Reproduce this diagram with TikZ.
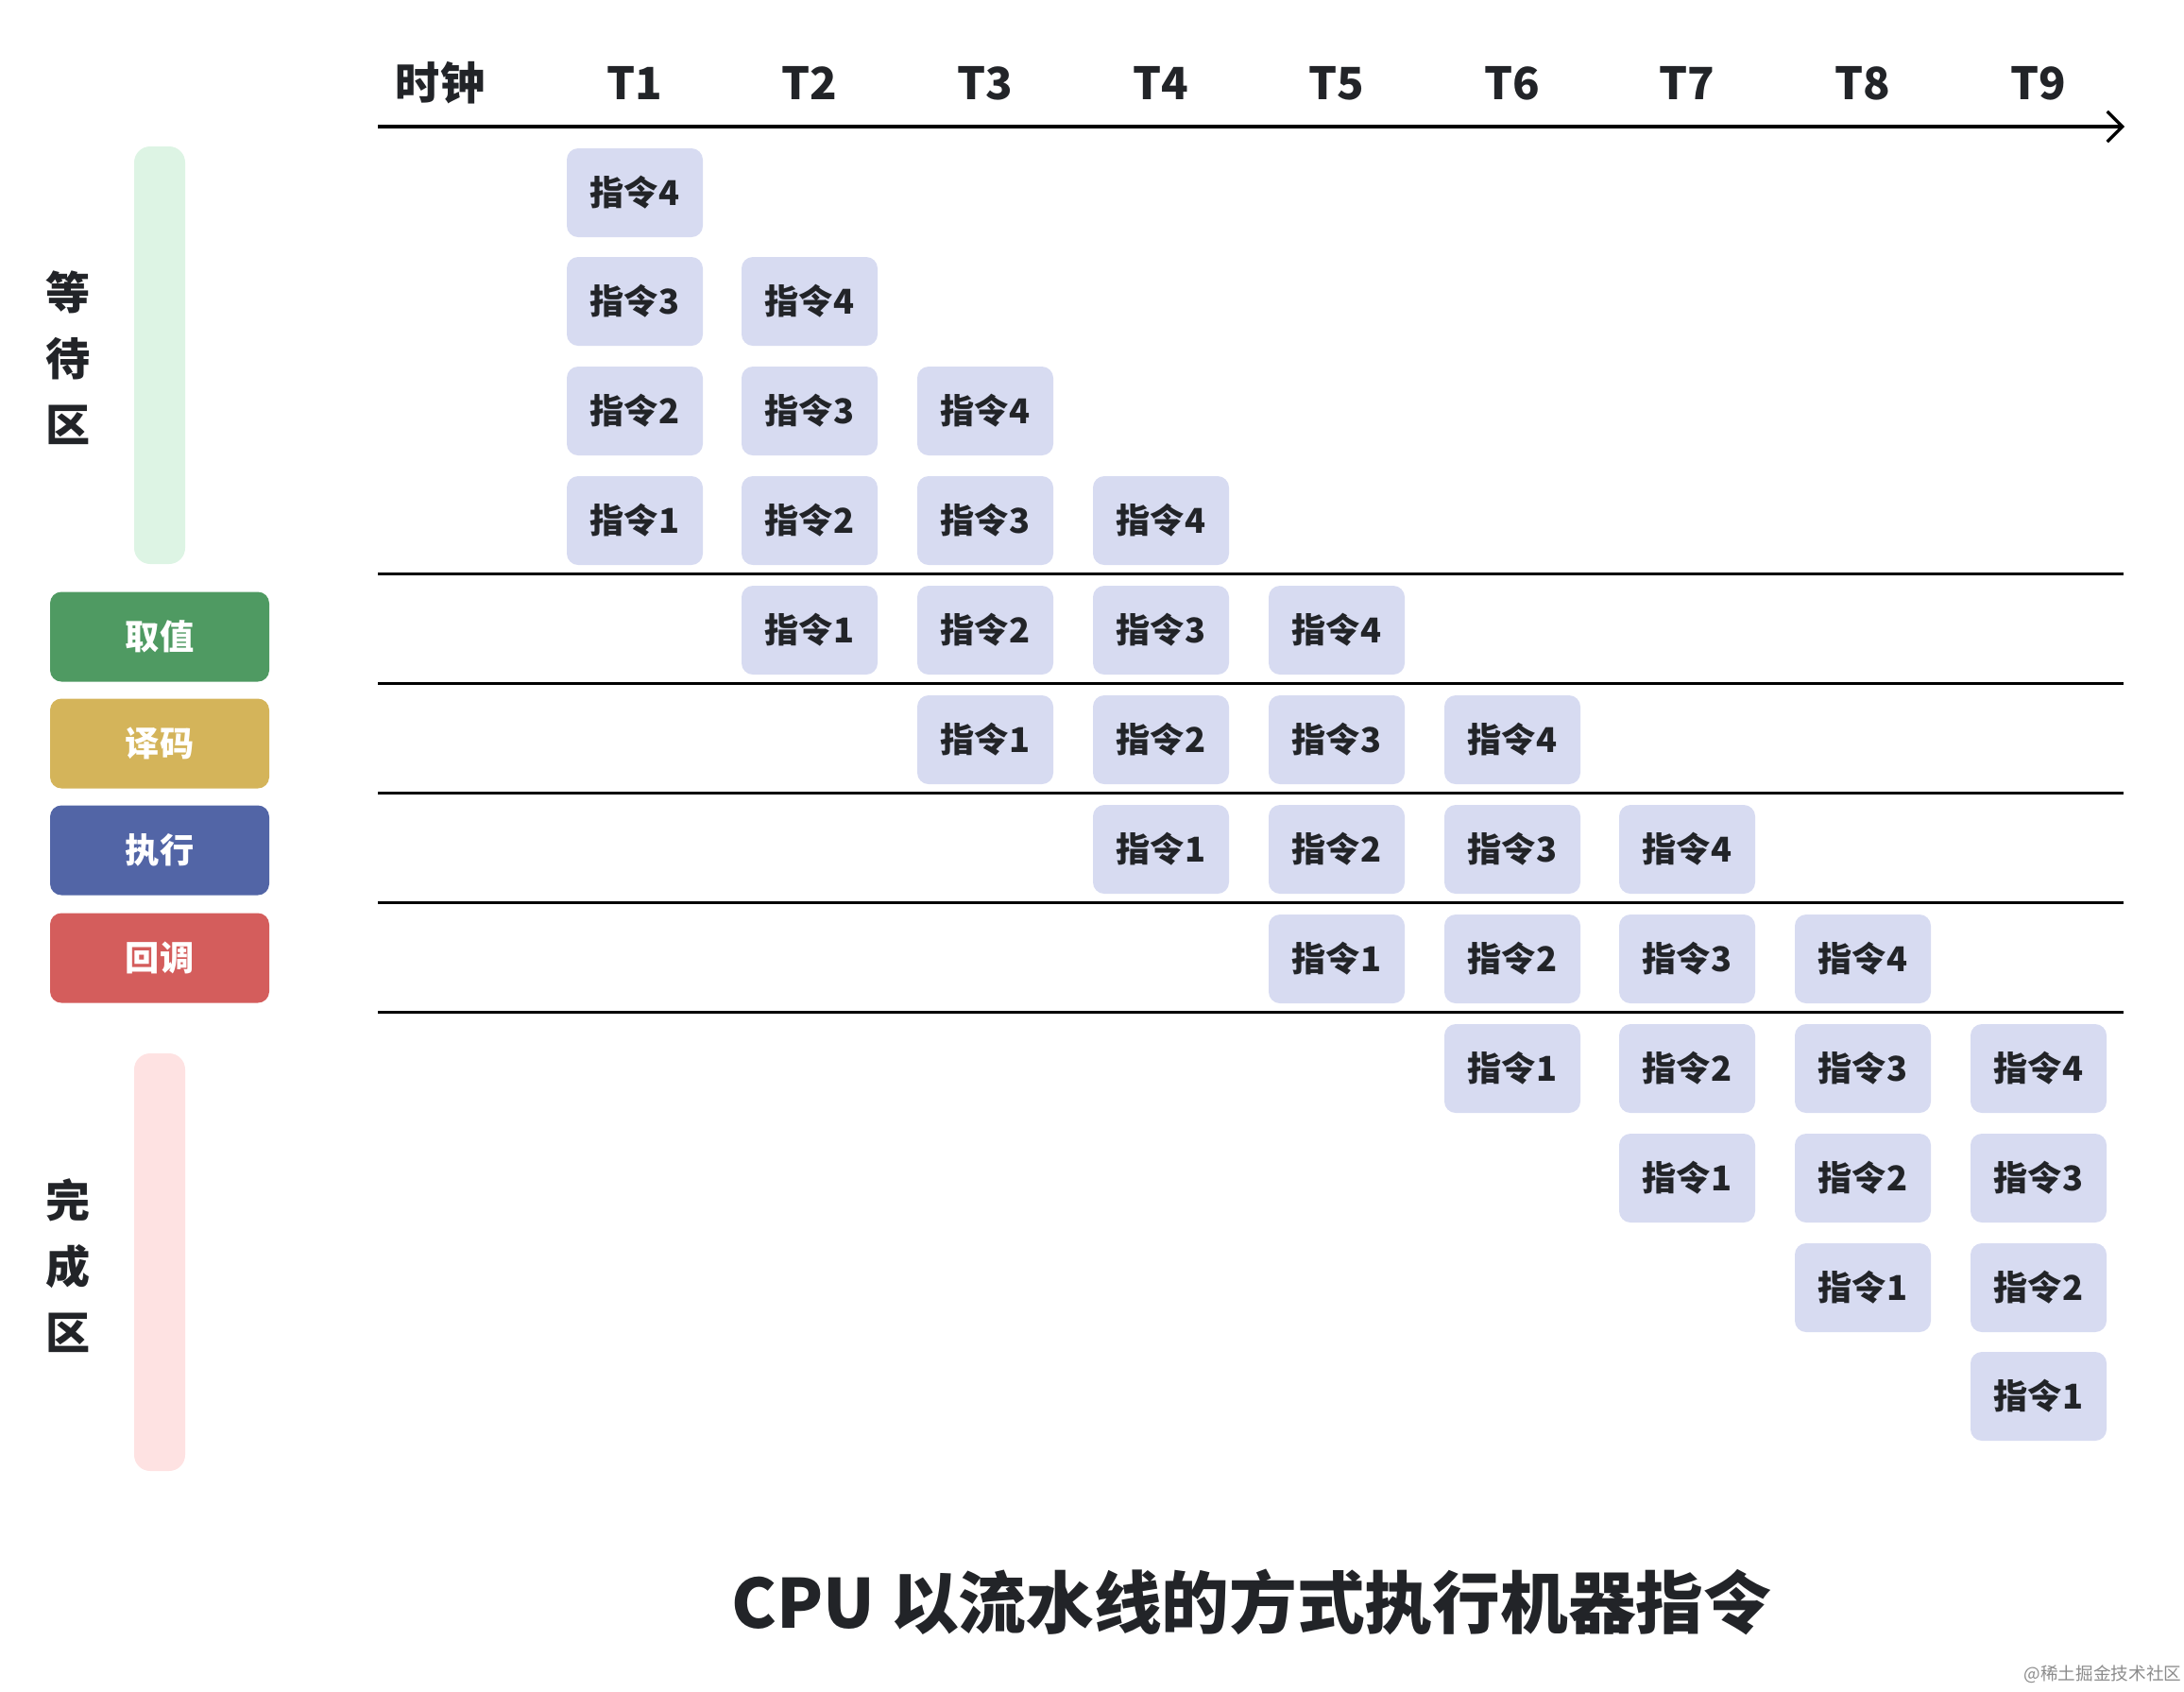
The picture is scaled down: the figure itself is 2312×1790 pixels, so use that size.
\documentclass[tikz,border=0pt]{standalone}
\usepackage{fontspec}
\setmainfont{Noto Sans CJK SC}
\usetikzlibrary{arrows.meta}

\definecolor{instrfill}{HTML}{D7DBF1}
\definecolor{textdark}{HTML}{222428}
\definecolor{fetchgreen}{HTML}{4F9A62}
\definecolor{decodeyellow}{HTML}{D4B45A}
\definecolor{execblue}{HTML}{5265A6}
\definecolor{callbackred}{HTML}{D45D5C}
\definecolor{waitgreen}{HTML}{DDF4E4}
\definecolor{donepink}{HTML}{FEE2E2}

\begin{document}
\begin{tikzpicture}[
    x=0.1mm, y=-0.1mm,
    instr/.style={
        rectangle, fill=instrfill, rounded corners=1.2mm,
        minimum width=14.4mm, minimum height=9.4mm,
        text=textdark,
        font=\fontsize{10.3}{12}\selectfont\bfseries
    },
    stage/.style={
        rectangle, rounded corners=1.2mm,
        minimum width=23.2mm, minimum height=9.5mm,
        text=white,
        font=\fontsize{10.3}{12}\selectfont\bfseries
    },
    bar/.style={
        rectangle, rounded corners=1.7mm, inner sep=0pt,
        minimum width=5.4mm, minimum height=44.2mm
    },
    header/.style={text=textdark, font=\fontsize{13.4}{16}\selectfont\bfseries},
    axis/.style={line width=0.33mm, -{Straight Barb[length=1.6mm, width=3.2mm, line width=0.33mm]}},
    sep/.style={line width=0.35mm}
]
    \useasboundingbox (0,0) rectangle (2312,1790);

    % Clock axis ===========================
    \node[header] (Clock) at (466,88) {时钟};
    \node[header] (T1) at (672,88) {T1};
    \node[header] (T2) at (857,88) {T2};
    \node[header] (T3) at (1043,88) {T3};
    \node[header] (T4) at (1229,88) {T4};
    \node[header] (T5) at (1415,88) {T5};
    \node[header] (T6) at (1601,88) {T6};
    \node[header] (T7) at (1786,88) {T7};
    \node[header] (T8) at (1972,88) {T8};
    \node[header] (T9) at (2158,88) {T9};
    \coordinate (AxisL) at (400,134);
    \coordinate (AxisR) at (2249,134);
    \draw[axis] (AxisL) -- (AxisR);

    % Stage separators ====================
    \coordinate (S1L) at (400,607.5);  \coordinate (S1R) at (2248,607.5);
    \coordinate (S2L) at (400,723.5);  \coordinate (S2R) at (2248,723.5);
    \coordinate (S3L) at (400,839.5);  \coordinate (S3R) at (2248,839.5);
    \coordinate (S4L) at (400,955.5);  \coordinate (S4R) at (2248,955.5);
    \coordinate (S5L) at (400,1071.5); \coordinate (S5R) at (2248,1071.5);
    \draw[sep] (S1L) -- (S1R);
    \draw[sep] (S2L) -- (S2R);
    \draw[sep] (S3L) -- (S3R);
    \draw[sep] (S4L) -- (S4R);
    \draw[sep] (S5L) -- (S5R);

    % Left side: areas and stages ====================
    \node[bar, fill=waitgreen] (WaitBar) at (169,376) {};
    \node[bar, fill=donepink] (DoneBar) at (169,1336) {};
    \node[header, align=center, font=\fontsize{13.4}{19.9}\selectfont\bfseries] (Wait) at (72,379) {等\\待\\区};
    \node[header, align=center, font=\fontsize{13.4}{19.9}\selectfont\bfseries] (Done) at (72,1340) {完\\成\\区};

    \node[stage, fill=fetchgreen] (Fetch) at (169,674) {取值};
    \node[stage, fill=decodeyellow] (Decode) at (169,787) {译码};
    \node[stage, fill=execblue] (Execute) at (169,900) {执行};
    \node[stage, fill=callbackred] (Callback) at (169,1014) {回调};

    % Instructions per clock ====================
    % T1
    \node[instr] (T1I4) at (672,204) {指令4};
    \node[instr] (T1I3) at (672,319) {指令3};
    \node[instr] (T1I2) at (672,435) {指令2};
    \node[instr] (T1I1) at (672,551) {指令1};
    % T2
    \node[instr] (T2I4) at (857,319) {指令4};
    \node[instr] (T2I3) at (857,435) {指令3};
    \node[instr] (T2I2) at (857,551) {指令2};
    \node[instr] (T2I1) at (857,667) {指令1};
    % T3
    \node[instr] (T3I4) at (1043,435) {指令4};
    \node[instr] (T3I3) at (1043,551) {指令3};
    \node[instr] (T3I2) at (1043,667) {指令2};
    \node[instr] (T3I1) at (1043,783) {指令1};
    % T4
    \node[instr] (T4I4) at (1229,551) {指令4};
    \node[instr] (T4I3) at (1229,667) {指令3};
    \node[instr] (T4I2) at (1229,783) {指令2};
    \node[instr] (T4I1) at (1229,899) {指令1};
    % T5
    \node[instr] (T5I4) at (1415,667) {指令4};
    \node[instr] (T5I3) at (1415,783) {指令3};
    \node[instr] (T5I2) at (1415,899) {指令2};
    \node[instr] (T5I1) at (1415,1015) {指令1};
    % T6
    \node[instr] (T6I4) at (1601,783) {指令4};
    \node[instr] (T6I3) at (1601,899) {指令3};
    \node[instr] (T6I2) at (1601,1015) {指令2};
    \node[instr] (T6I1) at (1601,1131) {指令1};
    % T7
    \node[instr] (T7I4) at (1786,899) {指令4};
    \node[instr] (T7I3) at (1786,1015) {指令3};
    \node[instr] (T7I2) at (1786,1131) {指令2};
    \node[instr] (T7I1) at (1786,1247) {指令1};
    % T8
    \node[instr] (T8I4) at (1972,1015) {指令4};
    \node[instr] (T8I3) at (1972,1131) {指令3};
    \node[instr] (T8I2) at (1972,1247) {指令2};
    \node[instr] (T8I1) at (1972,1363) {指令1};
    % T9
    \node[instr] (T9I4) at (2158,1131) {指令4};
    \node[instr] (T9I3) at (2158,1247) {指令3};
    \node[instr] (T9I2) at (2158,1363) {指令2};
    \node[instr] (T9I1) at (2158,1478) {指令1};

    % Title ==================
    \node[text=textdark, font=\fontsize{20.4}{24}\selectfont\bfseries] (Title) at (1325,1696) {CPU 以流水线的方式执行机器指令};
    \node[text=black!45, font=\fontsize{5.3}{7}\selectfont] (Mark) at (2226,1772) {@稀土掘金技术社区};

\end{tikzpicture}
\end{document}
